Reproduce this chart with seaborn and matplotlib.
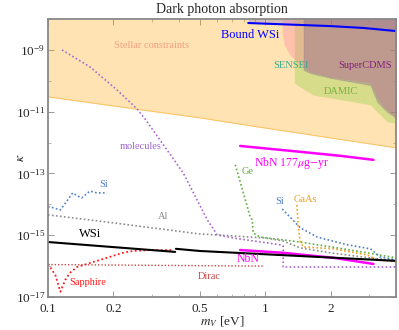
import numpy as np
import pandas as pd
import matplotlib
matplotlib.use("Agg")
import matplotlib.pyplot as plt
import seaborn as sns
from matplotlib.ticker import LogLocator, FixedLocator, NullFormatter

# ---- data (mass in eV, kappa as log10 exponents) ----
stellar_m = [0.1, 0.25, 0.5, 1.0, 2.0, 4.0]
stellar_logk = [-10.52, -10.91, -11.20, -11.53, -11.85, -12.17]

boundwsi_m = [0.835, 2.0, 2.83, 4.0]
boundwsi_logk = [-8.13, -8.23, -8.29, -8.39]

sensei_m = [1.198, 1.198, 1.224, 1.30, 1.45, 1.61, 2.0, 3.05, 3.28, 3.50, 3.89, 4.0]
sensei_logk = [-8.0, -8.5, -8.84, -9.17, -9.49, -9.72, -9.88, -10.07, -10.56, -10.85, -11.11, -11.40]

supercdms_m = [1.50, 1.50, 1.61, 2.0, 3.05, 3.28, 3.65, 4.0]
supercdms_logk = [-8.0, -9.65, -9.75, -9.91, -10.14, -10.69, -11.01, -11.20]

damic_m = [1.36, 1.36, 1.40, 1.66, 2.39, 3.05, 3.28, 3.65, 4.0]
damic_logk = [-8.0, -10.07, -10.14, -10.46, -10.65, -10.78, -11.01, -11.33, -11.37]

nbn177_m = [0.767, 1.45, 2.22, 3.15]
nbn177_logk = [-12.11, -12.30, -12.43, -12.56]

molecules_m = [0.116, 0.156, 0.208, 0.257, 0.280, 0.328, 0.419, 0.541, 0.601, 0.713, 1.17, 1.21, 1.21, 4.0]
molecules_logk = [-9.0, -9.55, -10.30, -10.91, -11.24, -11.92, -12.98, -14.50, -14.99, -15.09, -15.31, -15.35, -16.03, -16.03]

si_low_m = [0.1, 0.102, 0.114, 0.130, 0.136, 0.143, 0.156, 0.168, 0.187]
si_low_logk = [-14.08, -14.08, -14.18, -13.63, -13.72, -13.79, -13.57, -13.63, -13.63]

al_m = [0.1, 0.2, 0.5, 0.6, 1.0, 1.2, 1.45, 2.0, 3.0, 4.0]
al_logk = [-14.34, -14.60, -14.96, -14.99, -15.09, -15.18, -15.41, -15.57, -15.73, -15.83]

ge_m = [0.728, 0.793, 0.853, 0.871, 0.881, 0.948, 1.45, 2.47, 4.0]
ge_logk = [-12.72, -13.63, -14.41, -14.50, -14.93, -15.06, -15.22, -15.48, -15.73]

si_high_m = [1.198, 1.45, 1.736, 2.39, 3.05, 3.38, 4.0]
si_high_logk = [-14.15, -14.76, -15.06, -15.31, -15.44, -15.70, -15.80]

gaas_m = [1.40, 1.42, 1.45, 1.50, 2.06, 2.95, 3.28, 4.0]
gaas_logk = [-14.02, -14.73, -15.22, -15.38, -15.44, -15.64, -15.80, -15.86]

nbn_m = [0.767, 1.21, 2.06, 3.15]
nbn_logk = [-15.48, -15.57, -15.73, -15.93]

wsi_a_m = [0.1, 0.385]
wsi_a_logk = [-15.22, -15.54]
wsi_b_m = [0.388, 0.5, 4.0]
wsi_b_logk = [-15.44, -15.51, -15.83]

sapphire_m = [0.1, 0.108, 0.114, 0.120, 0.126, 0.136, 0.156, 0.187, 0.221, 0.246, 0.295, 0.377]
sapphire_logk = [-15.93, -16.28, -16.83, -16.45, -16.22, -16.03, -15.90, -15.73, -15.57, -15.51, -15.48, -15.48]

dirac_m = [0.1, 0.98]
dirac_logk = [-15.95, -16.0]

K = lambda v: 10.0 ** np.asarray(v)

sns.set_theme(style="ticks")
plt.rcParams["font.family"] = ["Liberation Serif", "DejaVu Serif"]
plt.rcParams["mathtext.fontset"] = "stix"

fig = plt.figure(figsize=(3.99, 3.30), dpi=100)
ax = fig.add_axes([48 / 399, 33 / 330, 348 / 399, 278 / 330])
ax.set_xscale("log")
ax.set_yscale("log")
ax.set_xlim(0.1, 4.0)
ax.set_ylim(1e-17, 1e-8)

# shaded regions
ax.fill_between(stellar_m, K(stellar_logk), 1e-8, color="#ffa500", alpha=0.3, lw=0)
sns.lineplot(x=stellar_m, y=K(stellar_logk), ax=ax, color="#f9c66a", lw=0.8,
             estimator=None, sort=False)
ax.fill_between(boundwsi_m, K(boundwsi_logk), 1e-8, color="#6a5ad8", alpha=0.28, lw=0)
ax.fill_betweenx(K(damic_logk), damic_m, 4.0, color="#8fd040", alpha=0.35, lw=0)
ax.fill_betweenx(K(sensei_logk), sensei_m, 4.0, color="#ff6ba0", alpha=0.28, lw=0)
ax.fill_betweenx(K(supercdms_logk), supercdms_m, 4.0, color="#6a4a8a", alpha=0.3,
                 edgecolor="#8a7a90", lw=0.6)

def curve(m, logk, color, ls="-", lw=1.3):
    sns.lineplot(x=m, y=K(logk), ax=ax, color=color, linestyle=ls, lw=lw,
                 estimator=None, sort=False)

dot = (0, (1, 1.4))
curve(boundwsi_m, boundwsi_logk, "#0000ff", lw=1.5)
curve(nbn177_m, nbn177_logk, "#ff00ff", lw=1.8)
curve(molecules_m, molecules_logk, "#a868d0", dot, 1.2)
curve(si_low_m, si_low_logk, "#4f7fc8", dot, 1.2)
curve(al_m, al_logk, "#8c8c8c", dot, 1.2)
curve(ge_m, ge_logk, "#5cb03c", dot, 1.2)
curve(si_high_m, si_high_logk, "#4f7fc8", dot, 1.2)
curve(gaas_m, gaas_logk, "#f0a020", dot, 1.2)
curve(dirac_m, dirac_logk, "#c84848", dot, 1.0)
curve(sapphire_m, sapphire_logk, "#ff1a1a", dot, 1.3)
curve(nbn_m, nbn_logk, "#ff00ff", lw=1.8)
curve(wsi_a_m, wsi_a_logk, "black", lw=1.5)
curve(wsi_b_m, wsi_b_logk, "black", lw=1.5)

# labels
labels = [
    ("Stellar constraints", 0.301, -8.87, "#f0a080", 7.5),
    ("Bound WSi", 0.849, -8.52, "#0000ff", 9),
    ("SENSEI", 1.318, -9.52, "#3aaa8c", 7.5),
    ("SuperCDMS", 2.89, -9.52, "#86207a", 7.5),
    ("DAMIC", 2.22, -10.36, "#78b040", 7.5),
    ("NbN 177$\\mu$g$-$yr", 1.318, -12.66, "#ff00ff", 8.5),
    ("molecules", 0.268, -12.14, "#a066cc", 7.5),
    ("Si", 0.181, -13.37, "#4f7fc8", 7.5),
    ("Al", 0.339, -14.41, "#8c8c8c", 7.5),
    ("Ge", 0.826, -12.95, "#5cb03c", 7.5),
    ("Si", 1.17, -13.92, "#4f7fc8", 7.5),
    ("GaAs", 1.53, -13.83, "#f0a020", 7.5),
    ("NbN", 0.836, -15.77, "#ff00ff", 8.5),
    ("WSi", 0.156, -14.96, "black", 9),
    ("Sapphire", 0.153, -16.54, "#ff1a1a", 7.5),
    ("Dirac", 0.555, -16.35, "#c84848", 7.5),
]
for txt, mx, ly, col, fs in labels:
    ax.text(mx, 10.0 ** ly, txt, color=col, fontsize=fs, ha="center", va="center")

# axes styling
ax.yaxis.set_major_locator(FixedLocator([1e-17, 1e-15, 1e-13, 1e-11, 1e-9]))
ax.yaxis.set_minor_locator(FixedLocator([10.0 ** e for e in range(-17, -7)]))
ax.yaxis.set_minor_formatter(NullFormatter())
ax.xaxis.set_major_locator(FixedLocator([0.1, 0.2, 0.5, 1, 2]))
ax.xaxis.set_major_formatter(plt.FuncFormatter(lambda v, p: f"{v:g}"))
ax.xaxis.set_minor_locator(LogLocator(base=10, subs=np.arange(1, 10) * 1.0, numticks=20))
ax.xaxis.set_minor_formatter(NullFormatter())
ax.tick_params(which="both", direction="in", top=True, right=True, color="#999999",
               labelsize=9.5)
ax.tick_params(axis="y", pad=2)
ax.tick_params(axis="x", pad=4)
ax.tick_params(which="major", length=4, width=0.7)
ax.tick_params(which="minor", length=2, width=0.5)
for s in ax.spines.values():
    s.set_color("#888888")
    s.set_linewidth(1.3)

ax.set_title("Dark photon absorption", fontsize=10, pad=4)
ax.set_xlabel("$m_V$ [eV]", fontsize=9.5, labelpad=0)
ax.set_ylabel("$\\kappa$", fontsize=10, rotation=90)
ax.yaxis.set_label_coords(-0.06, 0.5)

fig.savefig("out.png", dpi=100)
